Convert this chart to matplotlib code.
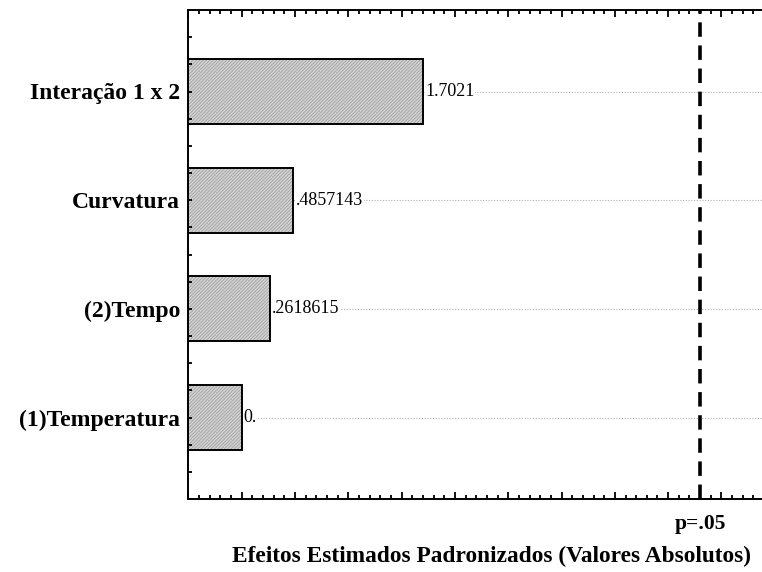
import numpy as np
import matplotlib
matplotlib.use("Agg")
import matplotlib.pyplot as plt
from matplotlib.ticker import MultipleLocator
from matplotlib.transforms import blended_transform_factory

# ========== dados ==========
efeitos = ["(1)Temperatura", "(2)Tempo", "Curvatura", "Interação 1 x 2"]
valores = np.array([0.0, 0.2618615, 0.4857143, 1.7021])
rotulos_valor = ["0.", ".2618615", ".4857143", "1.7021"]
p_crit = 4.302653      # t(0.975; gl=2)
rotulo_p = "p=.05"
titulo_x = "Efeitos Estimados Padronizados (Valores Absolutos)"

X_MIN, X_MAX = -0.5, 4.88
Y_MIN, Y_MAX = -0.75, 3.75

plt.rcParams["font.family"] = ["Liberation Serif", "DejaVu Serif"]
plt.rcParams["hatch.linewidth"] = 0.5

fig = plt.figure(figsize=(7.62, 5.72), dpi=100)
ax = fig.add_axes([188.3 / 762, 73 / 572, (762 - 188.3) / 762, 489 / 572])

y = np.arange(len(efeitos))

# linhas pontilhadas de referência (atrás das barras)
ax.hlines(y, X_MIN, X_MAX, linestyles=(0, (1, 1.5)), colors="#b0b0b0",
          linewidth=0.8, zorder=0.5)

# fundo hachurado (cinza) e contorno preto separados
ax.barh(y, valores - X_MIN, left=X_MIN, height=0.6, color="#d2d2d2",
        edgecolor="#9a9a9a", hatch="//////////", linewidth=0, zorder=1)
ax.barh(y, valores - X_MIN, left=X_MIN, height=0.6, fill=False,
        edgecolor="black", linewidth=1.4, zorder=1.5)

for yi, v, s in zip(y, valores, rotulos_valor):
    ax.text(v + 0.02, yi, s, va="center", ha="left", fontsize=13,
            bbox=dict(facecolor="white", edgecolor="none", pad=0.5), zorder=4)

# linha de significância
ax.axvline(p_crit, color="black", linewidth=2.6, dashes=(4, 2.4), zorder=5)
trans = blended_transform_factory(ax.transData, ax.transAxes)
ax.text(p_crit, -0.03, rotulo_p, transform=trans, ha="center", va="top",
        fontsize=15.5, fontweight="bold")

ax.set_xlim(X_MIN, X_MAX)
ax.set_ylim(Y_MIN, Y_MAX)

ax.xaxis.set_major_locator(MultipleLocator(0.5))
ax.xaxis.set_minor_locator(MultipleLocator(0.1))
ax.set_xticklabels([])
ax.set_yticks(y)
ax.set_yticklabels(efeitos, fontsize=17, fontweight="bold")
ax.yaxis.set_minor_locator(MultipleLocator(0.25))

ax.tick_params(axis="x", which="both", direction="in", top=True, bottom=True,
               width=1.3)
ax.tick_params(axis="x", which="major", length=5)
ax.tick_params(axis="x", which="minor", length=3)
ax.tick_params(axis="y", which="both", direction="in", left=True, right=False,
               length=3, width=1.3, pad=6)
ax.set_axisbelow(False)

for side in ["left", "top", "bottom"]:
    ax.spines[side].set_linewidth(1.4)
ax.spines["right"].set_visible(False)

fig.text(492 / 762, 1 - 556 / 572, titulo_x, ha="center", va="center",
         fontsize=16.8, fontweight="bold")

fig.savefig("out.png", dpi=100)
